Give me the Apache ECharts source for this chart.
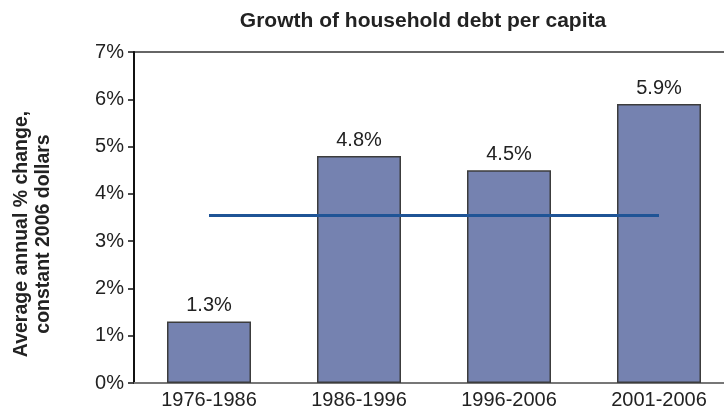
<!DOCTYPE html>
<html>
<head>
<meta charset="utf-8">
<script src="https://cdn.jsdelivr.net/npm/echarts@6/dist/echarts.min.js"></script>
<style>
  html, body { margin: 0; padding: 0; background: #fff; overflow: hidden; }
  /* the plot frame runs a little past the right edge of the window */
  #chart { width: 734px; height: 415px; }
</style>
</head>
<body>
<div id="chart"></div>
<script>
// Periods and average annual growth of household debt per capita (%)
const periods = ['1976-1986', '1986-1996', '1996-2006', '2001-2006'];
const growth = [1.3, 4.8, 4.5, 5.9];
// Long-run average drawn as a horizontal reference across the periods
const longRunAverage = [3.54, 3.54, 3.54, 3.54];
const yTicks = [0, 1, 2, 3, 4, 5, 6, 7];

const FONT = '"Liberation Sans", Arial, sans-serif';
const chart = echarts.init(document.getElementById('chart'), null, { renderer: 'canvas' });

chart.setOption({
  animation: false,
  title: {
    text: 'Growth of household debt per capita',
    left: 418,
    top: 6,
    textAlign: 'center',
    textStyle: { fontFamily: FONT, fontSize: 21, fontWeight: 'bold', color: '#222' }
  },
  graphic: [{
    type: 'text',
    x: 33,
    y: 234,
    rotation: Math.PI / 2,
    style: {
      text: 'Average annual % change,\nconstant 2006 dollars',
      fontFamily: FONT,
      fontSize: 19.5,
      fontWeight: 'bold',
      fill: '#222',
      align: 'center',
      verticalAlign: 'middle',
      lineHeight: 22
    }
  }],
  grid: { left: 134, right: 0, top: 52, bottom: 32, show: false },
  xAxis: {
    type: 'category',
    data: periods,
    axisLine: { lineStyle: { color: '#777', width: 2 } },
    axisTick: { show: false },
    axisLabel: { fontFamily: FONT, fontSize: 20, color: '#222', margin: 7 }
  },
  yAxis: {
    type: 'value',
    min: yTicks[0],
    max: yTicks[yTicks.length - 1],
    interval: 1,
    axisLine: { show: true, lineStyle: { color: '#111', width: 2 } },
    axisTick: { show: true, length: 6, lineStyle: { color: '#111', width: 1.5 } },
    axisLabel: {
      fontFamily: FONT, fontSize: 20, color: '#222', margin: 10,
      formatter: v => v + '%'
    },
    splitLine: {
      show: true,
      lineStyle: { color: ['transparent', 'transparent', 'transparent', 'transparent', 'transparent', 'transparent', 'transparent', '#333'], width: 1.5 }
    }
  },
  series: [
    {
      type: 'bar',
      data: growth,
      barWidth: '56%',
      itemStyle: { color: '#7582b0', borderColor: '#3c3c3c', borderWidth: 1.5 },
      label: {
        show: true,
        position: 'top',
        distance: 6,
        fontFamily: FONT,
        fontSize: 20,
        color: '#222',
        formatter: p => p.value.toFixed(1) + '%'
      },
      z: 2
    },
    {
      type: 'line',
      data: longRunAverage,
      symbol: 'none',
      lineStyle: { color: '#1f5496', width: 3 },
      z: 3
    }
  ]
});
</script>
</body>
</html>
